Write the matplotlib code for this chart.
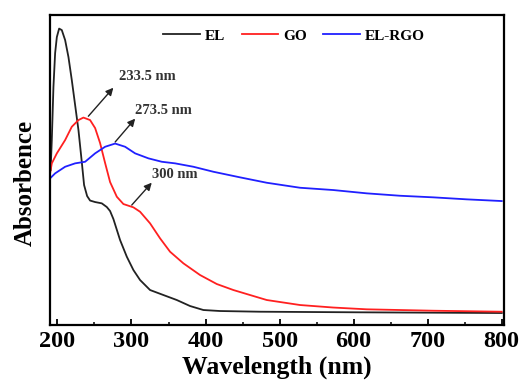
import numpy as np
import matplotlib
matplotlib.use('Agg')
import matplotlib.pyplot as plt
from matplotlib.ticker import MultipleLocator
from matplotlib.transforms import offset_copy

plt.rcParams['font.family'] = ['Liberation Serif', 'DejaVu Serif']
plt.rcParams['font.weight'] = 'bold'

# UV-vis spectra (arbitrary absorbance units)
el_wl = [190.8, 192.4, 194.6, 196.9, 199.2, 202.3, 205.9, 210.4, 214.9, 219.4, 223.9,
         228.4, 232.9, 236.0, 240.1, 244.1, 250.9, 259.9, 266.7, 271.1, 275.6, 284.6,
         293.7, 302.6, 311.6, 325.1, 343.1, 361.2, 379.1, 397.1, 419.6, 473.6, 608.6, 800]
el_abs = [1.55, 1.85, 2.38, 2.72, 2.88, 2.965, 2.95, 2.85, 2.68, 2.45, 2.20,
          1.95, 1.63, 1.40, 1.29, 1.245, 1.23, 1.217, 1.18, 1.14, 1.06, 0.85,
          0.683, 0.55, 0.45, 0.35, 0.30, 0.25, 0.19, 0.15, 0.14, 0.133, 0.127, 0.12]

go_wl = [190.1, 192.4, 199.2, 210.4, 219.4, 228.4, 235.1, 244.1, 250.9, 257.6, 264.4,
         271.1, 280.2, 289.1, 302.6, 311.6, 325.1, 338.6, 352.1, 370.1, 392.6, 415.2,
         437.6, 460.1, 482.7, 527.6, 572.2, 617.7, 707.2, 800]
go_abs = [1.517, 1.617, 1.717, 1.85, 1.983, 2.05, 2.075, 2.05, 1.97, 1.82, 1.62,
          1.43, 1.283, 1.21, 1.177, 1.133, 1.017, 0.867, 0.733, 0.617, 0.50, 0.41,
          0.35, 0.30, 0.25, 0.20, 0.175, 0.157, 0.143, 0.133]

rgo_wl = [190.1, 196.9, 210.4, 223.9, 237.4, 250.9, 264.4, 277.9, 291.4, 304.9, 322.9,
          340.9, 358.9, 383.6, 410.6, 446.6, 482.7, 527.6, 572.6, 617.7, 662.6, 707.6,
          752.7, 800]
rgo_abs = [1.467, 1.517, 1.583, 1.617, 1.633, 1.717, 1.783, 1.815, 1.783, 1.717, 1.667,
           1.633, 1.617, 1.583, 1.533, 1.477, 1.423, 1.373, 1.35, 1.317, 1.293, 1.277,
           1.257, 1.24]

# peak labels: wavelength, text, curve it points at
peak_wl = [233.5, 273.5, 300]
peak_txt = ['233.5 nm', '273.5 nm', '300 nm']
peak_curve = ['go', 'rgo', 'go']
# offsets in points from the peak: arrow start, arrow tip, text
arrow_start = [(4.4, 1.4), (2.4, 1.9), (0.2, 1.2)]
arrow_tip = [(22.4, 21.9), (16.8, 18.7), (14.6, 17.3)]
text_off = [(26.7, 30.0), (16.8, 24.2), (14.6, 23.5)]

fig = plt.figure(figsize=(5.26, 3.85), dpi=100)
ax = fig.add_axes([0.0951, 0.1558, 0.863, 0.805])

ax.plot(el_wl, el_abs, color='#222222', lw=1.3, label='EL', solid_joinstyle='round')
ax.plot(go_wl, go_abs, color='#ff2020', lw=1.3, label='GO', solid_joinstyle='round')
ax.plot(rgo_wl, rgo_abs, color='#2020ff', lw=1.3, label='EL-RGO', solid_joinstyle='round')

curves = {'go': (go_wl, go_abs), 'rgo': (rgo_wl, rgo_abs)}
for wl, txt, key, s, t, tx in zip(peak_wl, peak_txt, peak_curve, arrow_start, arrow_tip, text_off):
    y = np.interp(wl, *curves[key])
    st_tr = offset_copy(ax.transData, fig=fig, x=s[0], y=s[1], units='points')
    tip_tr = offset_copy(ax.transData, fig=fig, x=t[0], y=t[1], units='points')
    ax.annotate('', xy=(wl, y), xycoords=tip_tr, xytext=(wl, y), textcoords=st_tr,
                arrowprops=dict(arrowstyle='-|>', color='#222222', lw=1.0,
                                mutation_scale=11, shrinkA=0, shrinkB=0))
    ax.annotate(txt, xy=(wl, y), xytext=tx, textcoords='offset points',
                ha='left', va='center', fontsize=10.5, fontweight='bold', color='#333333')

ax.set_xlim(190, 803)
ax.set_ylim(0, 3.10)
ax.xaxis.set_major_locator(MultipleLocator(100))
ax.xaxis.set_minor_locator(MultipleLocator(50))
ax.tick_params(axis='x', which='major', direction='in', length=4, width=1.3,
               labelsize=17.5, pad=4)
ax.tick_params(axis='x', which='minor', direction='in', length=2.5, width=1.1)
ax.tick_params(axis='y', left=False, labelleft=False)
for sp in ax.spines.values():
    sp.set_linewidth(1.6)

ax.set_xlabel('Wavelength (nm)', fontsize=18.5, fontweight='bold', labelpad=3)
ax.set_ylabel('Absorbence', fontsize=18, fontweight='bold')
ax.yaxis.set_label_coords(-0.03, 0.46)

ax.legend(loc='center left', bbox_to_anchor=(0.2496, 0.933), ncol=3, frameon=False,
          borderpad=0, borderaxespad=0, handlelength=2.4, handletextpad=0.3,
          columnspacing=1.1, prop={'size': 11, 'weight': 'bold'})

fig.savefig('out.png', dpi=100)
